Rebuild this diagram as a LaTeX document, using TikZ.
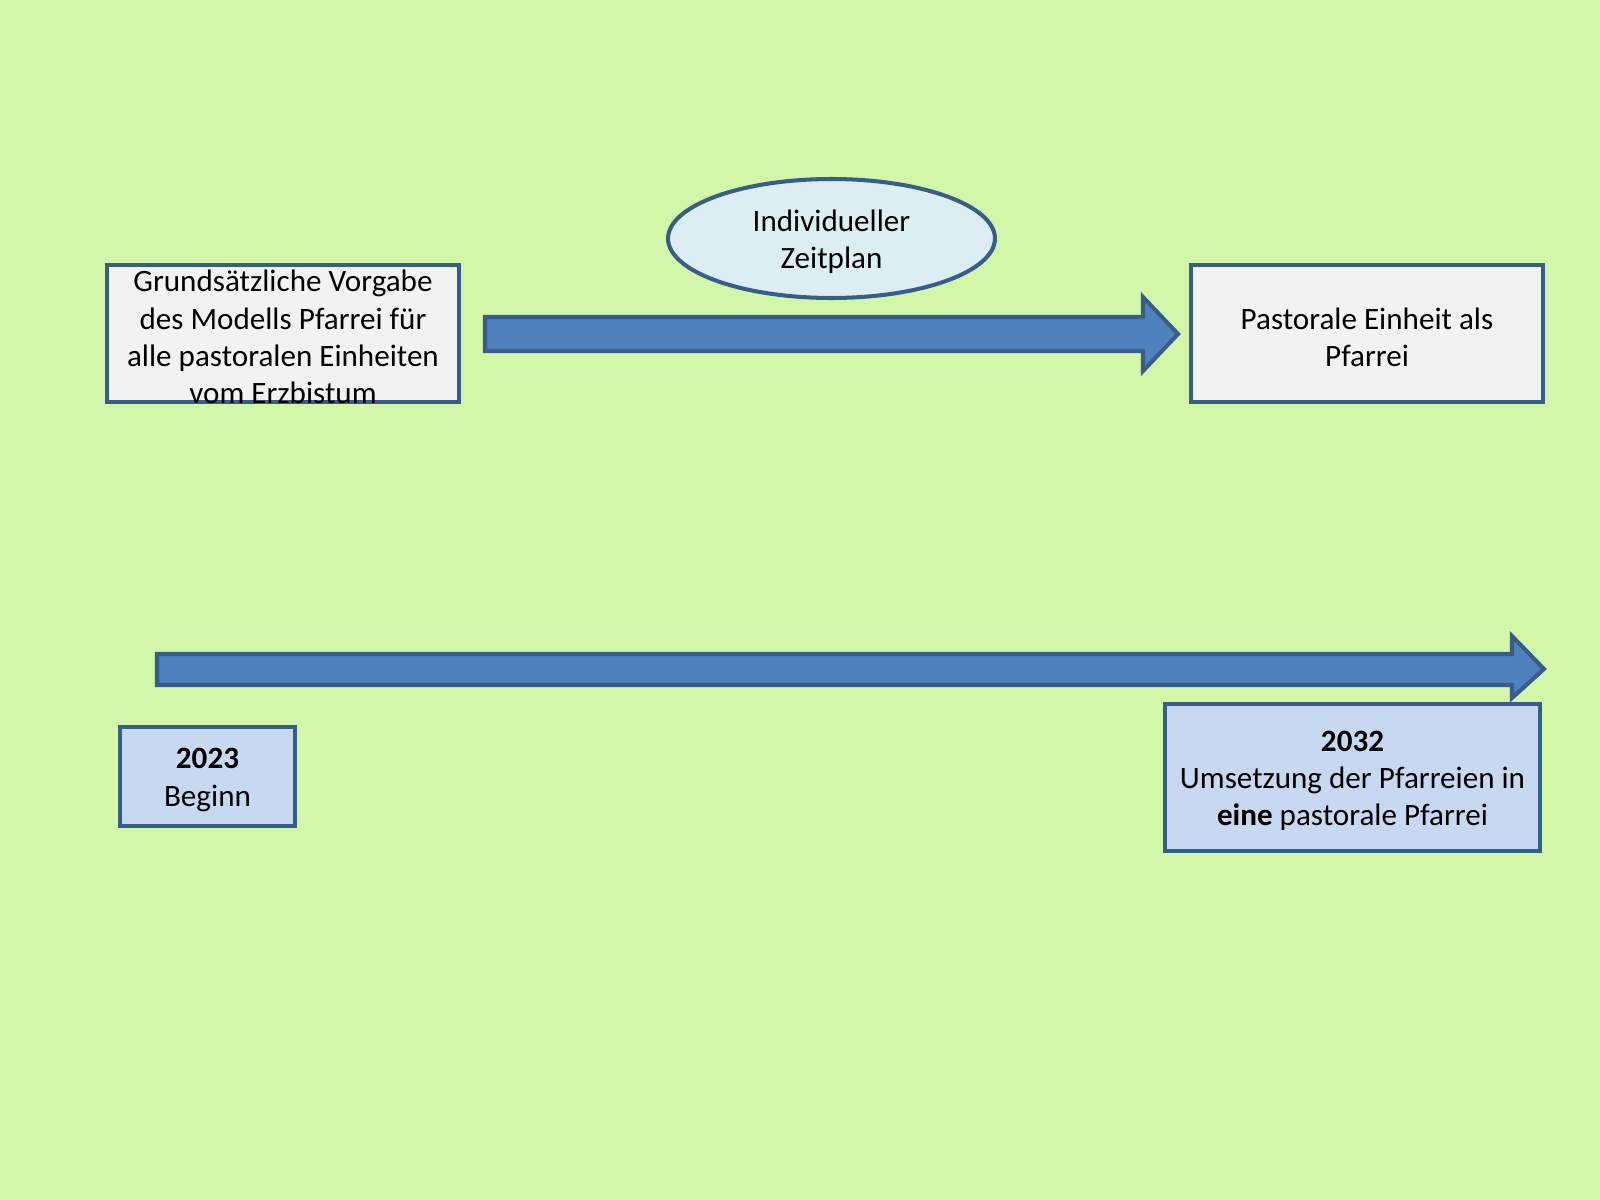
\documentclass[tikz,border=0pt]{standalone}
\usepackage{fontspec}
\setmainfont{Carlito}
\usetikzlibrary{shapes.geometric}
\definecolor{bggreen}{RGB}{210,247,169}
\definecolor{boxgray}{RGB}{242,242,242}
\definecolor{edgeblue}{RGB}{56,93,138}
\definecolor{arrowblue}{RGB}{79,129,189}
\definecolor{ellfill}{RGB}{219,238,244}
\definecolor{yearfill}{RGB}{198,217,241}
\tikzset{
  pbox/.style={draw=edgeblue, line width=2.3pt, fill=boxgray, rectangle, inner sep=0pt},
  ybox/.style={draw=edgeblue, line width=2.3pt, fill=yearfill, rectangle, inner sep=0pt},
  ell/.style={draw=edgeblue, line width=2.3pt, fill=ellfill, ellipse, inner sep=0pt},
  txt/.style={align=center, inner sep=0pt, yshift=-0.07cm, font=\fontsize{17.7}{21.2}\selectfont, text=black},
  blockarrow/.style={draw=edgeblue, line width=2.3pt, fill=arrowblue, line join=miter}
}
\begin{document}
\begin{tikzpicture}[x=0.02cm, y=-0.02cm]
\fill[bggreen] (0,0) rectangle (1600,1200);
\useasboundingbox (0,0) rectangle (1600,1200);

% top block arrow
\coordinate (ta1) at (485,317);
\coordinate (ta2) at (1143,317);
\coordinate (ta3) at (1143,297);
\coordinate (tatip) at (1178,334);
\coordinate (ta5) at (1143,371);
\coordinate (ta6) at (1143,351);
\coordinate (ta7) at (485,351);
\draw[blockarrow] (ta1) -- (ta2) -- (ta3) -- (tatip) -- (ta5) -- (ta6) -- (ta7) -- cycle;

% bottom block arrow
\coordinate (ba1) at (157,654);
\coordinate (ba2) at (1512,654);
\coordinate (ba3) at (1512,636);
\coordinate (batip) at (1544,669);
\coordinate (ba5) at (1512,698);
\coordinate (ba6) at (1512,685);
\coordinate (ba7) at (157,685);
\draw[blockarrow] (ba1) -- (ba2) -- (ba3) -- (batip) -- (ba5) -- (ba6) -- (ba7) -- cycle;

% boxes
\node[pbox, minimum width=7.04cm, minimum height=2.74cm] (L) at (283,333.5) {};
\node[txt] (Ltxt) at (L.center) {Grundsätzliche Vorgabe\\des Modells Pfarrei für\\alle pastoralen Einheiten\\vom Erzbistum};

\node[pbox, minimum width=7.04cm, minimum height=2.74cm] (R) at (1367,333.5) {};
\node[txt] (Rtxt) at (R.center) {Pastorale Einheit als\\Pfarrei};

\node[ell, minimum width=6.54cm, minimum height=2.38cm] (E) at (831.5,238.5) {};
\node[txt] (Etxt) at (E.center) {Individueller\\Zeitplan};

\node[ybox, minimum width=3.5cm, minimum height=1.98cm] (Y1) at (207.5,776.5) {};
\node[txt] (Y1txt) at (Y1.center) {\textbf{2023}\\Beginn};

\node[ybox, minimum width=7.5cm, minimum height=2.94cm] (Y2) at (1352.5,777.5) {};
\node[txt] (Y2txt) at (Y2.center) {\textbf{2032}\\Umsetzung der Pfarreien in\\\textbf{eine} pastorale Pfarrei};
\end{tikzpicture}
\end{document}
